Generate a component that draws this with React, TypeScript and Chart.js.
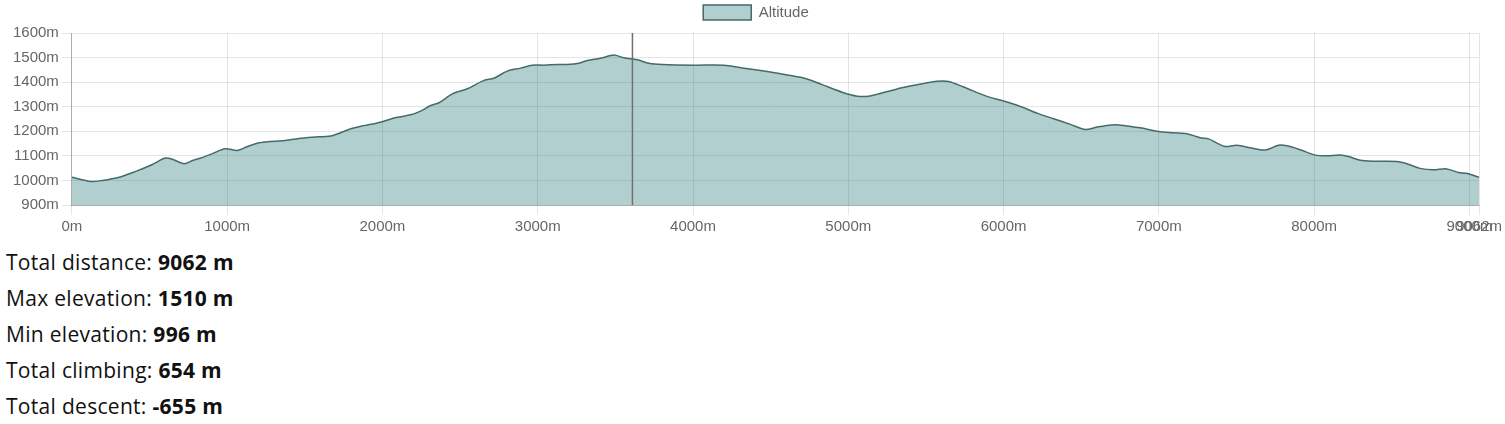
import { useEffect, useRef } from "react"
import { Chart, registerables } from "chart.js"

Chart.register(...registerables)

// distance along the track (m) and altitude (m), read from the profile
const distances = [
  0, 122, 197, 305, 412, 519, 601, 648, 723, 777, 830, 905, 987, 1066, 1131, 1206, 1270, 1356, 1463, 1549,
  1667, 1742, 1796, 1881, 1967, 2096, 2182, 2246, 2311, 2364, 2450, 2547, 2654, 2718, 2804, 2890, 2965, 3040,
  3126, 3190, 3265, 3319, 3405, 3490, 3555, 3641, 3716, 3802, 4005, 4198, 4317, 4488, 4617, 4724, 4831, 4960,
  5057, 5131, 5260, 5346, 5490, 5571, 5646, 5743, 5893, 6000, 6108, 6215, 6322, 6430, 6526, 6601, 6698, 6773,
  6880, 6998, 7094, 7180, 7266, 7320, 7374, 7427, 7502, 7588, 7652, 7695, 7770, 7824, 7910, 8006, 8082, 8167,
  8221, 8296, 8382, 8533, 8597, 8682, 8768, 8854, 8929, 8982, 9062,
]
const altitudes = [
  1013, 996, 1000, 1013, 1037, 1065, 1091, 1086, 1068, 1081, 1091, 1109, 1129, 1122, 1138, 1153, 1158, 1161, 1171, 1176,
  1181, 1197, 1210, 1223, 1234, 1257, 1267, 1282, 1305, 1316, 1352, 1373, 1407, 1416, 1445, 1457, 1469, 1469,
  1472, 1472, 1477, 1488, 1497, 1510, 1499, 1491, 1477, 1472, 1469, 1469, 1458, 1442, 1428, 1415, 1390, 1359,
  1343, 1343, 1363, 1377, 1395, 1404, 1403, 1380, 1342, 1323, 1301, 1274, 1251, 1228, 1207, 1217, 1226, 1224,
  1214, 1199, 1194, 1190, 1174, 1169, 1152, 1138, 1143, 1133, 1125, 1125, 1143, 1141, 1125, 1103, 1100, 1103,
  1097, 1082, 1078, 1077, 1068, 1049, 1043, 1047, 1032, 1029, 1013,
]
const xTicks = [0, 1000, 2000, 3000, 4000, 5000, 6000, 7000, 8000, 9000, 9062]
const markerDistance = 3610

const stats = [
  { label: "Total distance:", value: "9062 m" },
  { label: "Max elevation:", value: "1510 m" },
  { label: "Min elevation:", value: "996 m" },
  { label: "Total climbing:", value: "654 m" },
  { label: "Total descent:", value: "-655 m" },
]

const tickFont = { family: "'Liberation Sans', Arial, sans-serif", size: 15 }

// vertical position marker
const markerPlugin = {
  id: "marker",
  afterDatasetsDraw(chart: Chart) {
    const { ctx, chartArea, scales } = chart
    const x = scales.x.getPixelForValue(markerDistance)
    ctx.save()
    ctx.strokeStyle = "#6f6f6f"
    ctx.lineWidth = 1.5
    ctx.beginPath()
    ctx.moveTo(x, chartArea.top)
    ctx.lineTo(x, chartArea.bottom)
    ctx.stroke()
    ctx.restore()
  },
}

// a little more room under the legend
const legendSpacer = {
  id: "legendSpacer",
  beforeInit(chart: any) {
    const fit = chart.legend.fit
    chart.legend.fit = function () {
      fit.bind(chart.legend)()
      this.height += 3
    }
  },
}

function ElevationChart() {
  const chartRef = useRef<HTMLCanvasElement>(null)
  const chartInstance = useRef<Chart | null>(null)

  useEffect(() => {
    if (!chartRef.current) return
    if (chartInstance.current) chartInstance.current.destroy()
    const ctx = chartRef.current.getContext("2d")
    if (!ctx) return

    chartInstance.current = new Chart(ctx, {
      type: "line",
      data: {
        datasets: [
          {
            label: "Altitude",
            data: distances.map((d, i) => ({ x: d, y: altitudes[i] })),
            borderColor: "#456a6a",
            backgroundColor: "rgba(0, 95, 95, 0.3)",
            borderWidth: 1.5,
            fill: true,
            tension: 0.3,
            pointRadius: 0,
          },
        ],
      },
      options: {
        responsive: true,
        maintainAspectRatio: false,
        animation: false,
        layout: { padding: { left: 10, right: 3 } },
        plugins: {
          legend: {
            position: "top",
            labels: {
              boxWidth: 48,
              boxHeight: 15,
              padding: 5,
              color: "#666",
              font: tickFont,
            },
          },
          tooltip: { enabled: false },
        },
        scales: {
          x: {
            type: "linear",
            min: 0,
            max: 9062,
            afterBuildTicks: (scale) => {
              scale.ticks = xTicks.map((v) => ({ value: v }))
            },
            ticks: {
              color: "#666",
              font: tickFont,
              maxRotation: 0,
              autoSkip: false,
              callback: (value) => value + "m",
            },
            grid: { color: "rgba(0,0,0,0.1)", tickLength: 10 },
            border: { color: "rgba(0,0,0,0.25)" },
          },
          y: {
            min: 900,
            max: 1600,
            ticks: {
              stepSize: 100,
              color: "#666",
              font: tickFont,
              callback: (value) => value + "m",
            },
            grid: { color: "rgba(0,0,0,0.1)", tickLength: 10 },
            border: { color: "rgba(0,0,0,0.25)" },
          },
        },
      },
      plugins: [markerPlugin, legendSpacer],
    })

    return () => {
      if (chartInstance.current) {
        chartInstance.current.destroy()
        chartInstance.current = null
      }
    }
  }, [])

  return (
    <div style={{ position: "relative", width: "100%", height: 239 }}>
      <canvas ref={chartRef} />
    </div>
  )
}

export default function App() {
  useEffect(() => {
    document.body.style.margin = "0"
  }, [])

  return (
    <div>
      <ElevationChart />
      <div
        style={{
          marginTop: 5,
          paddingLeft: 6,
          fontFamily: "'Open Sans', Lato, sans-serif",
          fontSize: 21,
          lineHeight: "36px",
          letterSpacing: "0.3px",
          color: "#111",
        }}
      >
        {stats.map((s) => (
          <div key={s.label}>
            {s.label} <b>{s.value}</b>
          </div>
        ))}
      </div>
    </div>
  )
}
